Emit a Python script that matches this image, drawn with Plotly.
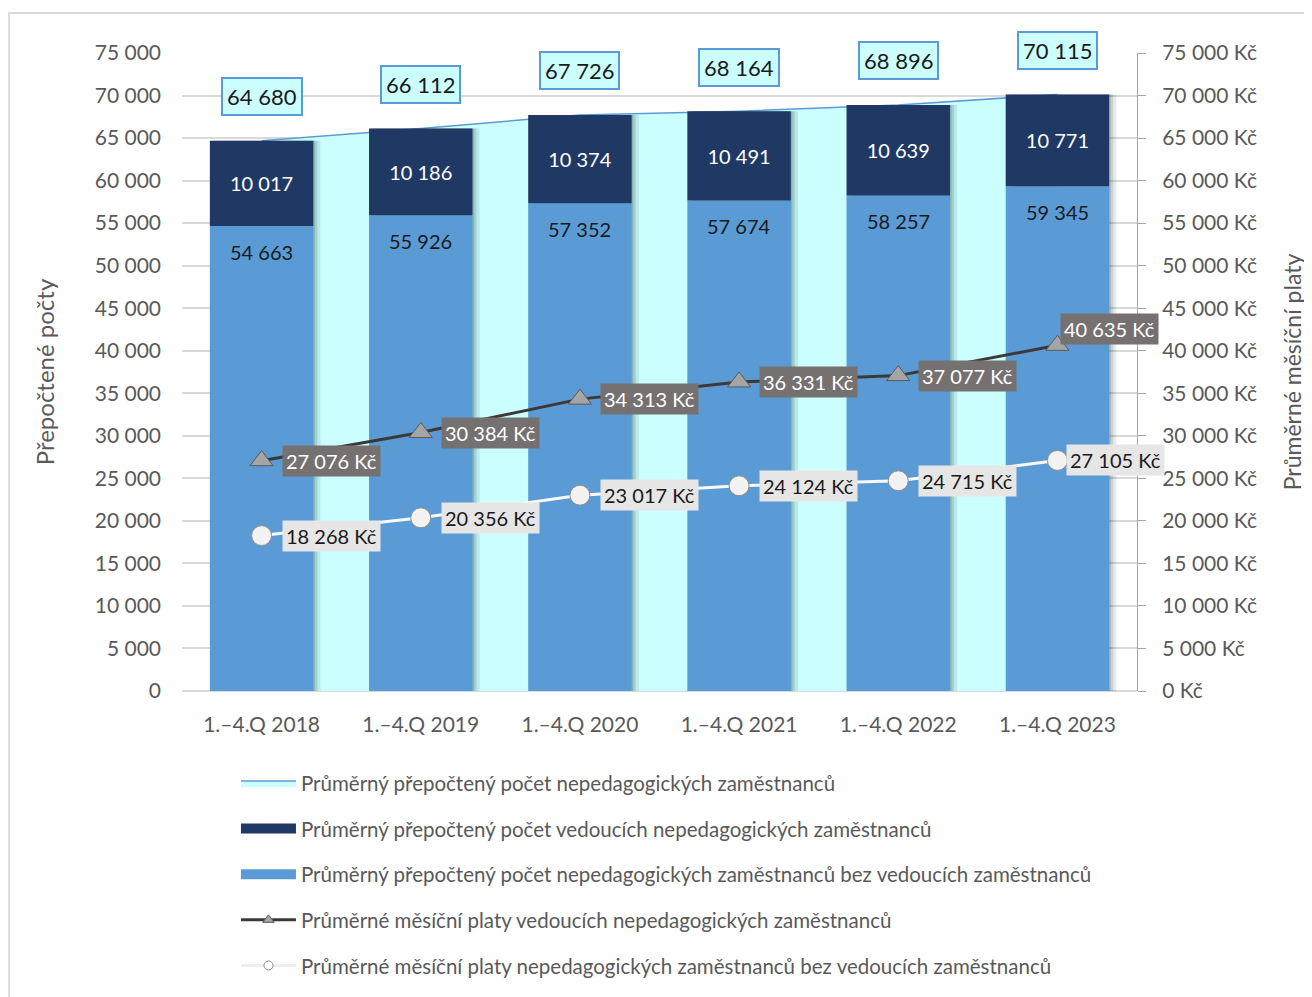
"""
Non-teaching staff: headcount (stacked bars + total area) and average monthly salaries.
"""

import plotly.graph_objects as go

# -- Data --
CATEGORIES = [
    "1.–4.Q 2018",
    "1.–4.Q 2019",
    "1.–4.Q 2020",
    "1.–4.Q 2021",
    "1.–4.Q 2022",
    "1.–4.Q 2023",
]
TOTAL_COUNT = [64680, 66112, 67726, 68164, 68896, 70115]
MANAGERS_COUNT = [10017, 10186, 10374, 10491, 10639, 10771]
STAFF_COUNT = [54663, 55926, 57352, 57674, 58257, 59345]
MANAGERS_SALARY = [27076, 30384, 34313, 36331, 37077, 40635]
STAFF_SALARY = [18268, 20356, 23017, 24124, 24715, 27105]
TICK_VALUES = list(range(0, 75001, 5000))

NAMES = [
    "Průměrný přepočtený počet nepedagogických zaměstnanců",
    "Průměrný přepočtený počet vedoucích nepedagogických zaměstnanců",
    "Průměrný přepočtený počet nepedagogických zaměstnanců bez vedoucích zaměstnanců",
    "Průměrné měsíční platy vedoucích nepedagogických zaměstnanců",
    "Průměrné měsíční platy nepedagogických zaměstnanců bez vedoucích zaměstnanců",
]

# -- Design --
COLORS = {
    "area": "#CCFFFF",
    "area_line": "#5B9BD5",
    "navy": "#203864",
    "blue": "#5B9BD5",
    "dark_line": "#3B3838",
    "tri": "#A5A5A5",
    "white_line": "#FAFAFA",
    "text": "#595959",
    "grid": "#D9D9D9",
    "dark_box": "#767171",
    "light_box": "#E7E6E6",
}
FONT = "Lato, 'Open Sans', Arial, sans-serif"
Y_RANGE = [0, 75000]
BAR_W = 0.65


def fmt(v):
    return f"{v:,}".replace(",", " ")


fig = go.Figure()

# Total headcount as a background area (primary axis -> drawn below bars)
fig.add_trace(
    go.Scatter(
        x=CATEGORIES,
        y=TOTAL_COUNT,
        name=NAMES[0],
        mode="lines",
        fill="tozeroy",
        fillcolor=COLORS["area"],
        line={"color": COLORS["area_line"], "width": 1.5},
        legendgroup="a",
        legendrank=1,
        yaxis="y",
        hoverinfo="skip",
    )
)

# Soft drop shadow behind the bars
for shift, alpha in [(0.045, 0.10), (0.025, 0.14), (0.01, 0.18)]:
    fig.add_trace(
        go.Bar(
            x=CATEGORIES,
            y=TOTAL_COUNT,
            width=BAR_W,
            offset=-BAR_W / 2 + shift,
            marker={"color": f"rgba(20,50,50,{alpha})", "line": {"width": 0}},
            showlegend=False,
            hoverinfo="skip",
            yaxis="y2",
        )
    )

# Bars: staff at the bottom, managers stacked on top (overlay mode, explicit base)
fig.add_trace(
    go.Bar(
        x=CATEGORIES,
        y=STAFF_COUNT,
        name=NAMES[2],
        marker={"color": COLORS["blue"], "line": {"width": 0}},
        width=BAR_W,
        showlegend=False,
        yaxis="y2",
    )
)
fig.add_trace(
    go.Bar(
        x=CATEGORIES,
        y=MANAGERS_COUNT,
        base=STAFF_COUNT,
        name=NAMES[1],
        marker={"color": COLORS["navy"], "line": {"width": 0}},
        width=BAR_W,
        text=[fmt(v) for v in MANAGERS_COUNT],
        textposition="inside",
        insidetextanchor="middle",
        textfont={"color": "white", "size": 20, "family": FONT},
        showlegend=False,
        yaxis="y2",
    )
)

# Salary lines on the right axis
fig.add_trace(
    go.Scatter(
        x=CATEGORIES,
        y=MANAGERS_SALARY,
        name=NAMES[3],
        mode="lines+markers",
        line={"color": COLORS["dark_line"], "width": 3},
        marker={
            "symbol": "triangle-up",
            "size": 20,
            "color": COLORS["tri"],
            "line": {"color": "#595959", "width": 1},
        },
        showlegend=False,
        yaxis="y3",
    )
)
fig.add_trace(
    go.Scatter(
        x=CATEGORIES,
        y=STAFF_SALARY,
        name=NAMES[4],
        mode="lines+markers",
        line={"color": COLORS["white_line"], "width": 3},
        marker={
            "symbol": "circle",
            "size": 20,
            "color": "#F2F2F2",
            "line": {"color": "#8C8C8C", "width": 1},
        },
        showlegend=False,
        yaxis="y3",
    )
)

# Legend-only entries with Excel-like swatches
legend_items = [
    (NAMES[1], {"color": COLORS["navy"], "width": 10}, None, "b", 2),
    (NAMES[2], {"color": COLORS["blue"], "width": 10}, None, "c", 3),
    (
        NAMES[3],
        {"color": COLORS["dark_line"], "width": 3},
        {"symbol": "triangle-up", "size": 10, "color": COLORS["tri"],
         "line": {"color": "#595959", "width": 1}},
        "d", 4,
    ),
    (
        NAMES[4],
        {"color": "#EEEEEE", "width": 3},
        {"symbol": "circle", "size": 9, "color": "white",
         "line": {"color": "#8C8C8C", "width": 1}},
        "e", 5,
    ),
]
for name, line, marker, group, rank in legend_items:
    fig.add_trace(
        go.Scatter(
            x=[None], y=[None], name=name,
            mode="lines+markers" if marker else "lines",
            line=line, marker=marker,
            legendgroup=group, legendrank=rank, yaxis="y3",
        )
    )

annotations = []

# Totals above the area
for cat, v in zip(CATEGORIES, TOTAL_COUNT):
    annotations.append(
        dict(
            x=cat, y=v, xref="x", yref="y2", text=fmt(v), showarrow=False,
            yshift=44, font={"size": 22, "color": "#1A1A1A", "family": FONT},
            bgcolor=COLORS["area"], bordercolor=COLORS["area_line"],
            borderwidth=2, borderpad=4,
        )
    )

# Staff counts near the top of the blue segment
for cat, v in zip(CATEGORIES, STAFF_COUNT):
    annotations.append(
        dict(
            x=cat, y=v, xref="x", yref="y2", text=fmt(v), showarrow=False,
            yshift=-26, font={"size": 20, "color": "#1A1A1A", "family": FONT},
        )
    )

# Salary labels
for i, (cat, v) in enumerate(zip(CATEGORIES, MANAGERS_SALARY)):
    last = i == len(CATEGORIES) - 1
    annotations.append(
        dict(
            x=cat, y=v, xref="x", yref="y3", text=f"{fmt(v)} Kč", showarrow=False,
            xanchor="left", xshift=3 if last else 20, yshift=16 if last else 0,
            font={"size": 20, "color": "white", "family": FONT},
            bgcolor=COLORS["dark_box"], borderpad=3,
        )
    )
for i, (cat, v) in enumerate(zip(CATEGORIES, STAFF_SALARY)):
    last = i == len(CATEGORIES) - 1
    annotations.append(
        dict(
            x=cat, y=v, xref="x", yref="y3", text=f"{fmt(v)} Kč", showarrow=False,
            xanchor="left", xshift=9 if last else 20,
            font={"size": 20, "color": "#1A1A1A", "family": FONT},
            bgcolor=COLORS["light_box"], borderpad=3,
        )
    )

fig.update_layout(
    width=1304,
    height=989,
    font={"family": FONT, "size": 21, "color": COLORS["text"]},
    plot_bgcolor="white",
    paper_bgcolor="white",
    margin={"l": 174, "r": 175, "t": 45, "b": 306, "autoexpand": False},
    barmode="overlay",
    showlegend=True,
    legend={
        "x": 0.0565,
        "y": -0.113,
        "xanchor": "left",
        "yanchor": "top",
        "orientation": "v",
        "traceorder": "grouped",
        "tracegroupgap": 16,
        "itemwidth": 55,
        "font": {"size": 20.5, "color": COLORS["text"]},
    },
    xaxis={
        "type": "category",
        "range": [-0.5, len(CATEGORIES) - 0.5],
        "showgrid": False,
        "showline": False,
        "ticks": "",
        "tickfont": {"size": 21},
        "ticklabelstandoff": 19,
        "automargin": False,
    },
    yaxis={
        "range": Y_RANGE,
        "tickvals": TICK_VALUES,
        "ticktext": [fmt(v) for v in TICK_VALUES],
        "showgrid": True,
        "gridcolor": COLORS["grid"],
        "gridwidth": 1.5,
        "zeroline": True,
        "zerolinecolor": COLORS["grid"],
        "zerolinewidth": 2,
        "showline": False,
        "ticks": "",
        "ticklabelstandoff": 20,
        "automargin": False,
        "title": {"text": "Přepočtené počty", "font": {"size": 24}, "standoff": 33},
    },
    yaxis2={
        "range": Y_RANGE,
        "overlaying": "y",
        "visible": False,
    },
    yaxis3={
        "range": Y_RANGE,
        "overlaying": "y",
        "side": "right",
        "tickvals": TICK_VALUES,
        "ticktext": [f"{fmt(v)} Kč" for v in TICK_VALUES],
        "showgrid": False,
        "zeroline": False,
        "showline": True,
        "linecolor": "#A6A6A6",
        "linewidth": 1,
        "ticks": "outside",
        "ticklen": 8,
        "tickcolor": "#A6A6A6",
        "ticklabelstandoff": 12,
        "automargin": False,
        "title": {"text": "Průměrné měsíční platy", "font": {"size": 23}, "standoff": 28},
    },
    annotations=annotations,
    shapes=[
        dict(
            type="rect", xref="paper", yref="paper",
            x0=-0.181, x1=1.2, y0=-0.52, y1=1.0627,
            line={"color": "#D9D9D9", "width": 2}, fillcolor="rgba(0,0,0,0)",
            layer="below",
        )
    ],
)

fig.write_html("out.html")
